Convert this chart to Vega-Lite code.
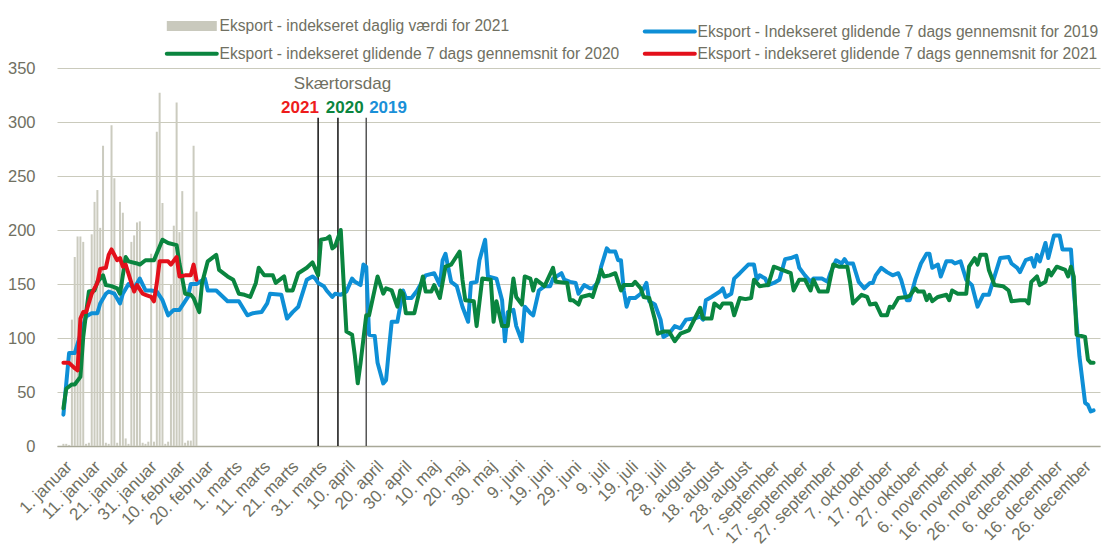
{
"$schema":"https://vega.github.io/schema/vega-lite/v6.json",
"width":1043,"height":378,
"autosize":{"type":"none"},
"padding":{"left":57,"top":68,"right":3,"bottom":109},
"background":"white",
"config":{"view":{"stroke":null},"font":"Liberation Sans"},
"datasets":{
"daglig":[{"d":1,"v":2},{"d":2,"v":2},{"d":3,"v":1},{"d":4,"v":117},{"d":5,"v":175},{"d":6,"v":194},{"d":7,"v":194},{"d":8,"v":189},{"d":9,"v":2},{"d":10,"v":3},{"d":11,"v":196},{"d":12,"v":226},{"d":13,"v":237},{"d":14,"v":202},{"d":15,"v":278},{"d":16,"v":3},{"d":17,"v":2},{"d":18,"v":297},{"d":19,"v":248},{"d":20,"v":3},{"d":21,"v":226},{"d":22,"v":216},{"d":23,"v":7},{"d":24,"v":2},{"d":25,"v":189},{"d":26,"v":195},{"d":27,"v":207},{"d":28,"v":208},{"d":29,"v":3},{"d":30,"v":2},{"d":31,"v":4},{"d":32,"v":178},{"d":33,"v":4},{"d":34,"v":291},{"d":35,"v":327},{"d":36,"v":225},{"d":37,"v":2},{"d":38,"v":4},{"d":39,"v":150},{"d":40,"v":204},{"d":41,"v":318},{"d":42,"v":198},{"d":43,"v":236},{"d":44,"v":3},{"d":45,"v":5},{"d":46,"v":5},{"d":47,"v":278},{"d":48,"v":217}],
"paaske":[{"d":91,"aar":2021},{"d":98,"aar":2020},{"d":108,"aar":2019}],
"tekst":[{"d":99.6,"v":331,"t":"Skærtorsdag","aar":0},{"d":84.6,"v":308,"t":"2021","aar":2021},{"d":100.4,"v":308,"t":"2020","aar":2020},{"d":115.7,"v":308,"t":"2019","aar":2019}],
"glid":[
{"d":1,"v":29,"s":"2019"},{"d":3,"v":86,"s":"2019"},{"d":5,"v":86,"s":"2019"},{"d":9,"v":120,"s":"2019"},{"d":11,"v":123,"s":"2019"},{"d":13,"v":123,"s":"2019"},{"d":14,"v":132,"s":"2019"},{"d":16,"v":141,"s":"2019"},{"d":17,"v":143,"s":"2019"},{"d":19,"v":141,"s":"2019"},{"d":21,"v":132,"s":"2019"},{"d":22,"v":141,"s":"2019"},{"d":24,"v":150,"s":"2019"},{"d":26,"v":146,"s":"2019"},{"d":28,"v":155,"s":"2019"},{"d":30,"v":144,"s":"2019"},{"d":32,"v":144,"s":"2019"},{"d":34,"v":143,"s":"2019"},{"d":36,"v":135,"s":"2019"},{"d":38,"v":121,"s":"2019"},{"d":40,"v":126,"s":"2019"},{"d":42,"v":126,"s":"2019"},{"d":45,"v":138,"s":"2019"},{"d":46,"v":150,"s":"2019"},{"d":48,"v":150,"s":"2019"},{"d":51,"v":155,"s":"2019"},{"d":52,"v":144,"s":"2019"},{"d":55,"v":144,"s":"2019"},{"d":59,"v":134,"s":"2019"},{"d":63,"v":134,"s":"2019"},{"d":66,"v":121,"s":"2019"},{"d":68,"v":123,"s":"2019"},{"d":71,"v":124,"s":"2019"},{"d":73,"v":132,"s":"2019"},{"d":74,"v":141,"s":"2019"},{"d":78,"v":140,"s":"2019"},{"d":80,"v":118,"s":"2019"},{"d":82,"v":124,"s":"2019"},{"d":84,"v":129,"s":"2019"},{"d":87,"v":154,"s":"2019"},{"d":89,"v":157,"s":"2019"},{"d":90,"v":155,"s":"2019"},{"d":91,"v":151,"s":"2019"},{"d":93,"v":148,"s":"2019"},{"d":94,"v":144,"s":"2019"},{"d":96,"v":138,"s":"2019"},{"d":97,"v":141,"s":"2019"},{"d":99,"v":140,"s":"2019"},{"d":101,"v":143,"s":"2019"},{"d":103,"v":155,"s":"2019"},{"d":104,"v":152,"s":"2019"},{"d":106,"v":149,"s":"2019"},{"d":107,"v":168,"s":"2019"},{"d":108,"v":166,"s":"2019"},{"d":109,"v":103,"s":"2019"},{"d":111,"v":102,"s":"2019"},{"d":112,"v":77,"s":"2019"},{"d":114,"v":58,"s":"2019"},{"d":115,"v":61,"s":"2019"},{"d":116,"v":89,"s":"2019"},{"d":117,"v":115,"s":"2019"},{"d":119,"v":115,"s":"2019"},{"d":121,"v":144,"s":"2019"},{"d":122,"v":137,"s":"2019"},{"d":124,"v":137,"s":"2019"},{"d":126,"v":144,"s":"2019"},{"d":129,"v":158,"s":"2019"},{"d":132,"v":160,"s":"2019"},{"d":134,"v":149,"s":"2019"},{"d":135,"v":172,"s":"2019"},{"d":136,"v":178,"s":"2019"},{"d":138,"v":152,"s":"2019"},{"d":140,"v":148,"s":"2019"},{"d":142,"v":129,"s":"2019"},{"d":144,"v":115,"s":"2019"},{"d":145,"v":151,"s":"2019"},{"d":147,"v":152,"s":"2019"},{"d":148,"v":172,"s":"2019"},{"d":150,"v":191,"s":"2019"},{"d":151,"v":157,"s":"2019"},{"d":154,"v":155,"s":"2019"},{"d":156,"v":135,"s":"2019"},{"d":157,"v":97,"s":"2019"},{"d":158,"v":124,"s":"2019"},{"d":160,"v":126,"s":"2019"},{"d":161,"v":111,"s":"2019"},{"d":163,"v":97,"s":"2019"},{"d":164,"v":129,"s":"2019"},{"d":166,"v":123,"s":"2019"},{"d":167,"v":121,"s":"2019"},{"d":169,"v":144,"s":"2019"},{"d":171,"v":148,"s":"2019"},{"d":173,"v":148,"s":"2019"},{"d":174,"v":155,"s":"2019"},{"d":177,"v":160,"s":"2019"},{"d":178,"v":154,"s":"2019"},{"d":180,"v":152,"s":"2019"},{"d":182,"v":151,"s":"2019"},{"d":183,"v":141,"s":"2019"},{"d":185,"v":149,"s":"2019"},{"d":187,"v":146,"s":"2019"},{"d":188,"v":146,"s":"2019"},{"d":190,"v":152,"s":"2019"},{"d":191,"v":166,"s":"2019"},{"d":193,"v":183,"s":"2019"},{"d":194,"v":180,"s":"2019"},{"d":196,"v":180,"s":"2019"},{"d":197,"v":172,"s":"2019"},{"d":198,"v":172,"s":"2019"},{"d":199,"v":144,"s":"2019"},{"d":200,"v":129,"s":"2019"},{"d":201,"v":137,"s":"2019"},{"d":203,"v":137,"s":"2019"},{"d":205,"v":141,"s":"2019"},{"d":207,"v":151,"s":"2019"},{"d":208,"v":134,"s":"2019"},{"d":210,"v":131,"s":"2019"},{"d":212,"v":117,"s":"2019"},{"d":213,"v":101,"s":"2019"},{"d":215,"v":104,"s":"2019"},{"d":217,"v":111,"s":"2019"},{"d":219,"v":109,"s":"2019"},{"d":221,"v":117,"s":"2019"},{"d":224,"v":118,"s":"2019"},{"d":226,"v":120,"s":"2019"},{"d":227,"v":117,"s":"2019"},{"d":228,"v":135,"s":"2019"},{"d":230,"v":138,"s":"2019"},{"d":233,"v":143,"s":"2019"},{"d":234,"v":146,"s":"2019"},{"d":235,"v":138,"s":"2019"},{"d":237,"v":141,"s":"2019"},{"d":238,"v":155,"s":"2019"},{"d":240,"v":160,"s":"2019"},{"d":243,"v":168,"s":"2019"},{"d":245,"v":168,"s":"2019"},{"d":246,"v":154,"s":"2019"},{"d":247,"v":158,"s":"2019"},{"d":249,"v":155,"s":"2019"},{"d":250,"v":149,"s":"2019"},{"d":252,"v":151,"s":"2019"},{"d":254,"v":154,"s":"2019"},{"d":256,"v":173,"s":"2019"},{"d":258,"v":174,"s":"2019"},{"d":260,"v":176,"s":"2019"},{"d":261,"v":165,"s":"2019"},{"d":263,"v":158,"s":"2019"},{"d":265,"v":152,"s":"2019"},{"d":266,"v":155,"s":"2019"},{"d":269,"v":155,"s":"2019"},{"d":271,"v":152,"s":"2019"},{"d":272,"v":160,"s":"2019"},{"d":274,"v":172,"s":"2019"},{"d":276,"v":169,"s":"2019"},{"d":277,"v":173,"s":"2019"},{"d":278,"v":169,"s":"2019"},{"d":280,"v":169,"s":"2019"},{"d":282,"v":152,"s":"2019"},{"d":284,"v":146,"s":"2019"},{"d":286,"v":151,"s":"2019"},{"d":287,"v":151,"s":"2019"},{"d":288,"v":158,"s":"2019"},{"d":290,"v":165,"s":"2019"},{"d":292,"v":161,"s":"2019"},{"d":294,"v":158,"s":"2019"},{"d":296,"v":160,"s":"2019"},{"d":297,"v":154,"s":"2019"},{"d":299,"v":135,"s":"2019"},{"d":300,"v":135,"s":"2019"},{"d":302,"v":154,"s":"2019"},{"d":304,"v":169,"s":"2019"},{"d":306,"v":178,"s":"2019"},{"d":307,"v":178,"s":"2019"},{"d":308,"v":165,"s":"2019"},{"d":310,"v":168,"s":"2019"},{"d":311,"v":157,"s":"2019"},{"d":313,"v":171,"s":"2019"},{"d":315,"v":171,"s":"2019"},{"d":316,"v":169,"s":"2019"},{"d":318,"v":171,"s":"2019"},{"d":320,"v":154,"s":"2019"},{"d":322,"v":149,"s":"2019"},{"d":324,"v":129,"s":"2019"},{"d":326,"v":140,"s":"2019"},{"d":328,"v":140,"s":"2019"},{"d":330,"v":157,"s":"2019"},{"d":332,"v":174,"s":"2019"},{"d":335,"v":175,"s":"2019"},{"d":336,"v":169,"s":"2019"},{"d":338,"v":165,"s":"2019"},{"d":339,"v":161,"s":"2019"},{"d":341,"v":172,"s":"2019"},{"d":343,"v":174,"s":"2019"},{"d":344,"v":166,"s":"2019"},{"d":345,"v":177,"s":"2019"},{"d":346,"v":171,"s":"2019"},{"d":348,"v":188,"s":"2019"},{"d":349,"v":174,"s":"2019"},{"d":351,"v":195,"s":"2019"},{"d":353,"v":195,"s":"2019"},{"d":354,"v":182,"s":"2019"},{"d":357,"v":182,"s":"2019"},{"d":358,"v":144,"s":"2019"},{"d":360,"v":83,"s":"2019"},{"d":362,"v":40,"s":"2019"},{"d":363,"v":38,"s":"2019"},{"d":364,"v":32,"s":"2019"},{"d":365,"v":33,"s":"2019"},
{"d":1,"v":35,"s":"2020"},{"d":2,"v":53,"s":"2020"},{"d":4,"v":57,"s":"2020"},{"d":5,"v":57,"s":"2020"},{"d":7,"v":64,"s":"2020"},{"d":8,"v":101,"s":"2020"},{"d":9,"v":123,"s":"2020"},{"d":10,"v":143,"s":"2020"},{"d":12,"v":144,"s":"2020"},{"d":13,"v":152,"s":"2020"},{"d":15,"v":158,"s":"2020"},{"d":16,"v":149,"s":"2020"},{"d":18,"v":148,"s":"2020"},{"d":20,"v":146,"s":"2020"},{"d":21,"v":141,"s":"2020"},{"d":23,"v":175,"s":"2020"},{"d":24,"v":171,"s":"2020"},{"d":27,"v":169,"s":"2020"},{"d":28,"v":168,"s":"2020"},{"d":30,"v":172,"s":"2020"},{"d":33,"v":172,"s":"2020"},{"d":36,"v":191,"s":"2020"},{"d":38,"v":188,"s":"2020"},{"d":41,"v":186,"s":"2020"},{"d":42,"v":169,"s":"2020"},{"d":44,"v":141,"s":"2020"},{"d":46,"v":140,"s":"2020"},{"d":47,"v":137,"s":"2020"},{"d":49,"v":124,"s":"2020"},{"d":50,"v":151,"s":"2020"},{"d":52,"v":171,"s":"2020"},{"d":55,"v":177,"s":"2020"},{"d":56,"v":163,"s":"2020"},{"d":59,"v":157,"s":"2020"},{"d":61,"v":154,"s":"2020"},{"d":63,"v":141,"s":"2020"},{"d":65,"v":140,"s":"2020"},{"d":67,"v":138,"s":"2020"},{"d":69,"v":151,"s":"2020"},{"d":70,"v":165,"s":"2020"},{"d":72,"v":158,"s":"2020"},{"d":75,"v":158,"s":"2020"},{"d":76,"v":151,"s":"2020"},{"d":79,"v":157,"s":"2020"},{"d":80,"v":144,"s":"2020"},{"d":82,"v":144,"s":"2020"},{"d":84,"v":160,"s":"2020"},{"d":87,"v":165,"s":"2020"},{"d":89,"v":170,"s":"2020"},{"d":91,"v":158,"s":"2020"},{"d":92,"v":191,"s":"2020"},{"d":94,"v":192,"s":"2020"},{"d":95,"v":194,"s":"2020"},{"d":96,"v":183,"s":"2020"},{"d":97,"v":185,"s":"2020"},{"d":99,"v":200,"s":"2020"},{"d":100,"v":152,"s":"2020"},{"d":101,"v":106,"s":"2020"},{"d":103,"v":103,"s":"2020"},{"d":104,"v":83,"s":"2020"},{"d":105,"v":58,"s":"2020"},{"d":106,"v":77,"s":"2020"},{"d":108,"v":121,"s":"2020"},{"d":109,"v":121,"s":"2020"},{"d":112,"v":157,"s":"2020"},{"d":114,"v":141,"s":"2020"},{"d":115,"v":146,"s":"2020"},{"d":117,"v":144,"s":"2020"},{"d":119,"v":129,"s":"2020"},{"d":120,"v":144,"s":"2020"},{"d":121,"v":141,"s":"2020"},{"d":122,"v":123,"s":"2020"},{"d":125,"v":123,"s":"2020"},{"d":128,"v":157,"s":"2020"},{"d":129,"v":143,"s":"2020"},{"d":131,"v":143,"s":"2020"},{"d":132,"v":149,"s":"2020"},{"d":134,"v":137,"s":"2020"},{"d":136,"v":166,"s":"2020"},{"d":138,"v":168,"s":"2020"},{"d":139,"v":172,"s":"2020"},{"d":141,"v":180,"s":"2020"},{"d":142,"v":154,"s":"2020"},{"d":143,"v":135,"s":"2020"},{"d":146,"v":134,"s":"2020"},{"d":147,"v":111,"s":"2020"},{"d":149,"v":155,"s":"2020"},{"d":152,"v":154,"s":"2020"},{"d":153,"v":115,"s":"2020"},{"d":154,"v":134,"s":"2020"},{"d":156,"v":111,"s":"2020"},{"d":158,"v":111,"s":"2020"},{"d":160,"v":155,"s":"2020"},{"d":161,"v":138,"s":"2020"},{"d":163,"v":131,"s":"2020"},{"d":164,"v":157,"s":"2020"},{"d":166,"v":155,"s":"2020"},{"d":167,"v":144,"s":"2020"},{"d":168,"v":154,"s":"2020"},{"d":171,"v":148,"s":"2020"},{"d":174,"v":165,"s":"2020"},{"d":175,"v":152,"s":"2020"},{"d":179,"v":151,"s":"2020"},{"d":180,"v":135,"s":"2020"},{"d":181,"v":135,"s":"2020"},{"d":183,"v":131,"s":"2020"},{"d":184,"v":138,"s":"2020"},{"d":187,"v":140,"s":"2020"},{"d":188,"v":138,"s":"2020"},{"d":191,"v":163,"s":"2020"},{"d":192,"v":157,"s":"2020"},{"d":194,"v":158,"s":"2020"},{"d":196,"v":160,"s":"2020"},{"d":198,"v":144,"s":"2020"},{"d":199,"v":149,"s":"2020"},{"d":202,"v":149,"s":"2020"},{"d":203,"v":152,"s":"2020"},{"d":205,"v":146,"s":"2020"},{"d":206,"v":138,"s":"2020"},{"d":208,"v":137,"s":"2020"},{"d":210,"v":117,"s":"2020"},{"d":211,"v":104,"s":"2020"},{"d":213,"v":106,"s":"2020"},{"d":215,"v":106,"s":"2020"},{"d":217,"v":97,"s":"2020"},{"d":219,"v":104,"s":"2020"},{"d":222,"v":107,"s":"2020"},{"d":226,"v":128,"s":"2020"},{"d":227,"v":118,"s":"2020"},{"d":230,"v":118,"s":"2020"},{"d":231,"v":132,"s":"2020"},{"d":233,"v":128,"s":"2020"},{"d":234,"v":132,"s":"2020"},{"d":237,"v":132,"s":"2020"},{"d":238,"v":121,"s":"2020"},{"d":240,"v":137,"s":"2020"},{"d":242,"v":136,"s":"2020"},{"d":244,"v":137,"s":"2020"},{"d":245,"v":154,"s":"2020"},{"d":247,"v":148,"s":"2020"},{"d":250,"v":149,"s":"2020"},{"d":252,"v":166,"s":"2020"},{"d":255,"v":163,"s":"2020"},{"d":258,"v":160,"s":"2020"},{"d":259,"v":144,"s":"2020"},{"d":261,"v":154,"s":"2020"},{"d":263,"v":154,"s":"2020"},{"d":265,"v":144,"s":"2020"},{"d":266,"v":154,"s":"2020"},{"d":268,"v":143,"s":"2020"},{"d":271,"v":143,"s":"2020"},{"d":273,"v":168,"s":"2020"},{"d":275,"v":166,"s":"2020"},{"d":278,"v":166,"s":"2020"},{"d":279,"v":151,"s":"2020"},{"d":280,"v":132,"s":"2020"},{"d":283,"v":140,"s":"2020"},{"d":285,"v":138,"s":"2020"},{"d":286,"v":131,"s":"2020"},{"d":288,"v":132,"s":"2020"},{"d":290,"v":121,"s":"2020"},{"d":292,"v":121,"s":"2020"},{"d":293,"v":129,"s":"2020"},{"d":294,"v":128,"s":"2020"},{"d":296,"v":137,"s":"2020"},{"d":299,"v":138,"s":"2020"},{"d":300,"v":139,"s":"2020"},{"d":302,"v":146,"s":"2020"},{"d":303,"v":143,"s":"2020"},{"d":305,"v":143,"s":"2020"},{"d":306,"v":135,"s":"2020"},{"d":307,"v":140,"s":"2020"},{"d":308,"v":134,"s":"2020"},{"d":310,"v":138,"s":"2020"},{"d":313,"v":140,"s":"2020"},{"d":314,"v":135,"s":"2020"},{"d":315,"v":144,"s":"2020"},{"d":317,"v":141,"s":"2020"},{"d":320,"v":141,"s":"2020"},{"d":321,"v":166,"s":"2020"},{"d":323,"v":174,"s":"2020"},{"d":324,"v":168,"s":"2020"},{"d":325,"v":177,"s":"2020"},{"d":327,"v":177,"s":"2020"},{"d":328,"v":163,"s":"2020"},{"d":330,"v":149,"s":"2020"},{"d":333,"v":148,"s":"2020"},{"d":335,"v":144,"s":"2020"},{"d":336,"v":134,"s":"2020"},{"d":339,"v":135,"s":"2020"},{"d":341,"v":135,"s":"2020"},{"d":342,"v":132,"s":"2020"},{"d":343,"v":152,"s":"2020"},{"d":345,"v":157,"s":"2020"},{"d":346,"v":149,"s":"2020"},{"d":348,"v":152,"s":"2020"},{"d":349,"v":163,"s":"2020"},{"d":350,"v":158,"s":"2020"},{"d":352,"v":166,"s":"2020"},{"d":355,"v":163,"s":"2020"},{"d":356,"v":157,"s":"2020"},{"d":357,"v":166,"s":"2020"},{"d":358,"v":157,"s":"2020"},{"d":359,"v":103,"s":"2020"},{"d":362,"v":101,"s":"2020"},{"d":363,"v":80,"s":"2020"},{"d":364,"v":77,"s":"2020"},{"d":365,"v":77,"s":"2020"},
{"d":1,"v":77,"s":"2021"},{"d":3,"v":77,"s":"2021"},{"d":5,"v":72,"s":"2021"},{"d":6,"v":70,"s":"2021"},{"d":7,"v":118,"s":"2021"},{"d":8,"v":124,"s":"2021"},{"d":9,"v":124,"s":"2021"},{"d":11,"v":141,"s":"2021"},{"d":13,"v":151,"s":"2021"},{"d":14,"v":164,"s":"2021"},{"d":16,"v":165,"s":"2021"},{"d":17,"v":177,"s":"2021"},{"d":18,"v":182,"s":"2021"},{"d":20,"v":172,"s":"2021"},{"d":21,"v":174,"s":"2021"},{"d":22,"v":166,"s":"2021"},{"d":23,"v":168,"s":"2021"},{"d":25,"v":151,"s":"2021"},{"d":26,"v":143,"s":"2021"},{"d":27,"v":149,"s":"2021"},{"d":29,"v":141,"s":"2021"},{"d":30,"v":140,"s":"2021"},{"d":32,"v":138,"s":"2021"},{"d":33,"v":134,"s":"2021"},{"d":34,"v":151,"s":"2021"},{"d":35,"v":171,"s":"2021"},{"d":38,"v":171,"s":"2021"},{"d":39,"v":168,"s":"2021"},{"d":41,"v":175,"s":"2021"},{"d":42,"v":157,"s":"2021"},{"d":44,"v":158,"s":"2021"},{"d":46,"v":158,"s":"2021"},{"d":47,"v":168,"s":"2021"},{"d":48,"v":154,"s":"2021"}
]},
"encoding":{
"x":{"field":"d","type":"quantitative","title":null,"scale":{"domain":[0.5,365.5],"nice":false,"zero":false},
"axis":{"values":[1,11,21,31,41,51,61,71,81,91,101,111,121,131,141,151,161,171,181,191,201,211,221,231,241,251,261,271,281,291,301,311,321,331,341,351,361],
"labelExpr":"['1. januar','11. januar','21. januar','31. januar','10. februar','20. februar','1. marts','11. marts','21. marts','31. marts','10. april','20. april','30. april','10. maj','20. maj','30. maj','9. juni','19. juni','29. juni','9. juli','19. juli','29. juli','8. august','18. august','28. august','7. september','17. september','27. september','7. oktober','17. oktober','27. oktober','6. november','16. november','26. november','6. december','16. december','26. december'][round((datum.value-1)/10)]",
"labelAngle":-45,"labelAlign":"right","labelBaseline":"top","labelFontSize":17,"labelColor":"#707062","labelFont":"Liberation Sans","labelPadding":12,"labelOverlap":false,"labelFlush":false,"ticks":false,"grid":false,"domainColor":"#a8a898","domainWidth":1.5,"title":null}}
},
"layer":[
{"data":{"name":"daglig"},"mark":{"type":"bar","color":"#cbcbbf","width":2},
 "encoding":{
"y":{"field":"v","type":"quantitative","title":null,"scale":{"domain":[0,350],"nice":false},
"axis":{"values":[0,50,100,150,200,250,300,350],"labelFontSize":16.5,"labelColor":"#707062","labelFont":"Liberation Sans","labelPadding":22,"ticks":false,"domain":false,"grid":true,"gridColor":"#cacabc","gridWidth":1,"title":null}}}},
{"data":{"name":"paaske"},"transform":[{"filter":"datum.aar != 2019"}],"mark":{"type":"rule","strokeWidth":1.5,"color":"#111111"},
 "encoding":{"y":{"datum":304,"type":"quantitative"},"y2":{"datum":0}}},
{"data":{"name":"paaske"},"transform":[{"filter":"datum.aar == 2019"}],"mark":{"type":"rule","strokeWidth":1.5,"color":"#555555"},
 "encoding":{"y":{"datum":304,"type":"quantitative"},"y2":{"datum":0}}},
{"data":{"name":"glid"},"mark":{"type":"line","strokeWidth":4,"strokeJoin":"round","strokeCap":"round"},
 "encoding":{"y":{"field":"v","type":"quantitative","title":null},
 "color":{"field":"s","type":"nominal",
  "scale":{"domain":["daglig","2019","2020","2021"],"range":["#c9c9bd","#0e8fd6","#0a853f","#e3101b"]},
  "legend":{"orient":"none","legendX":127,"legendY":-50,"direction":"horizontal","columns":2,"columnPadding":16,"rowPadding":-6,"symbolType":"stroke","symbolSize":2500,"symbolStrokeWidth":4,"labelOffset":20,"labelFontSize":15.6,"labelColor":"#707062","labelFont":"Liberation Sans","labelLimit":0,"title":null,"padding":0,
   "labelExpr":"datum.value == 'daglig' ? 'Eksport - indekseret daglig værdi for 2021' : datum.value == '2019' ? 'Eksport - Indekseret glidende 7 dags gennemsnit for 2019' : 'Eksport - indekseret glidende 7 dags gennemsnit for ' + datum.value",
   "encode":{"symbols":{"update":{"strokeWidth":{"signal":"datum.value == 'daglig' ? 10 : 4"},"strokeCap":{"signal":"datum.value == 'daglig' ? 'butt' : 'round'"}}}}}}}},
{"data":{"name":"tekst"},"transform":[{"filter":"datum.aar == 0"}],"mark":{"type":"text","fontSize":17,"font":"Liberation Sans","baseline":"alphabetic","align":"center","color":"#707062"},
 "encoding":{"y":{"field":"v","type":"quantitative","title":null},"text":{"field":"t"}}},
{"data":{"name":"tekst"},"transform":[{"filter":"datum.aar > 0"}],"mark":{"type":"text","fontSize":17,"font":"Liberation Sans","fontWeight":"bold","baseline":"alphabetic","align":"center"},
 "encoding":{"y":{"field":"v","type":"quantitative","title":null},"text":{"field":"t"},
  "color":{"condition":[{"test":"datum.aar == 2021","value":"#ee1c1c"},{"test":"datum.aar == 2020","value":"#0a853f"}],"value":"#1a90d8"}}}
]
}
